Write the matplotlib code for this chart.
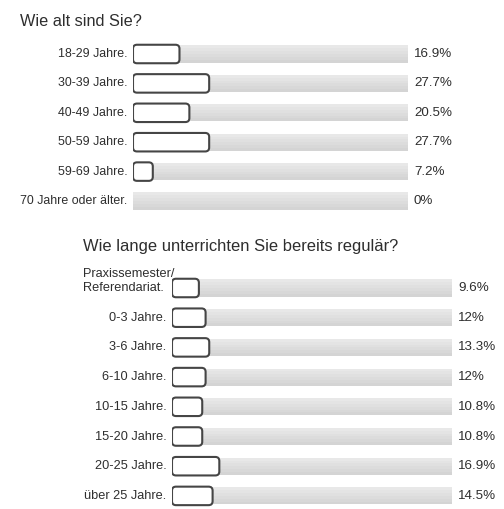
import matplotlib
matplotlib.use("Agg")
import matplotlib.pyplot as plt
import numpy as np
from matplotlib.patches import FancyBboxPatch
from matplotlib.transforms import blended_transform_factory

plt.rcParams['font.family'] = ['Liberation Sans', 'DejaVu Sans']

# survey answers, question 1
age_title = "Wie alt sind Sie?"
age_labels = ["18-29 Jahre.", "30-39 Jahre.", "40-49 Jahre.", "50-59 Jahre.",
              "59-69 Jahre.", "70 Jahre oder älter."]
age_values = [16.9, 27.7, 20.5, 27.7, 7.2, 0]
age_texts = ["16.9%", "27.7%", "20.5%", "27.7%", "7.2%", "0%"]

# survey answers, question 2
years_title = "Wie lange unterrichten Sie bereits regulär?"
years_labels = ["Praxissemester/\nReferendariat.", "0-3 Jahre.", "3-6 Jahre.",
                "6-10 Jahre.", "10-15 Jahre.", "15-20 Jahre.", "20-25 Jahre.",
                "über 25 Jahre."]
years_values = [9.6, 12, 13.3, 12, 10.8, 10.8, 16.9, 14.5]
years_texts = ["9.6%", "12%", "13.3%", "12%", "10.8%", "10.8%", "16.9%", "14.5%"]

W, H = 504, 509
TEXT = '#2e2e2e'
EDGE = '#454545'


def px_axes(fig, left, top, width, height):
    return fig.add_axes([left / W, 1 - (top + height) / H, width / W, height / H])


def draw_block(ax, labels, values, texts, width_px, row_px, label_size, val_size):
    n = len(values)
    rows = list(range(n))
    ax.set_xlim(0, 100)
    ax.set_ylim(n - 0.5, -0.5)
    ax.axis('off')
    th = 17.0 / row_px
    bh = 18.5 / row_px
    # background tracks with a soft vertical gradient (light top, darker bottom)
    shades = np.linspace(0.91, 0.83, 6)
    band = th / len(shades)
    for k, g in enumerate(shades):
        ax.barh([r - th / 2 + band * (k + 0.5) for r in rows], [100] * n,
                height=band * 1.02, color=(g, g, g), zorder=1, linewidth=0)
    # answer boxes (rounded)
    px_x = width_px / 100.0
    for r, v in zip(rows, values):
        if v <= 0:
            continue
        box = FancyBboxPatch((0, r - bh / 2), v, bh,
                             boxstyle="round,pad=0,rounding_size=%.3f" % (4.0 / px_x),
                             mutation_aspect=px_x / row_px,
                             facecolor='white', edgecolor=EDGE, lw=1.5, zorder=3)
        ax.add_patch(box)
    tr = blended_transform_factory(ax.transAxes, ax.transData)
    for r, t in zip(rows, texts):
        ax.text(1 + 6.0 / width_px, r, t, transform=tr, ha='left', va='center',
                fontsize=val_size, color=TEXT)
    for r, lab in zip(rows, labels):
        if '\n' in lab:
            continue
        ax.text(-5.5 / width_px, r, lab, transform=tr, ha='right', va='center',
                fontsize=label_size, color=TEXT)
    return tr


fig = plt.figure(figsize=(W / 100, H / 100), dpi=100)

# first question
fig.text(20 / W, 1 - 21 / H, age_title, fontsize=11.7, color=TEXT, va='center')
row1 = 29.4
ax1 = px_axes(fig, 133, 54 - row1 / 2, 275, row1 * len(age_values))
draw_block(ax1, age_labels, age_values, age_texts, 275, row1, 8.9, 9.6)

# second question
fig.text(83 / W, 1 - 246 / H, years_title, fontsize=11.9, color=TEXT, va='center')
row2 = 29.7
ax2 = px_axes(fig, 172, 288 - row2 / 2, 280, row2 * len(years_values))
tr2 = draw_block(ax2, years_labels, years_values, years_texts, 280, row2, 9.2, 9.6)
first, second = years_labels[0].split('\n')
ax2.text((83 - 172) / 280.0, -14.0 / row2, first, transform=tr2,
         ha='left', va='center', fontsize=9.2, color=TEXT)
ax2.text((83 - 172) / 280.0, 0, second, transform=tr2,
         ha='left', va='center', fontsize=9.2, color=TEXT)

fig.savefig("out.png", dpi=100, facecolor='white')
